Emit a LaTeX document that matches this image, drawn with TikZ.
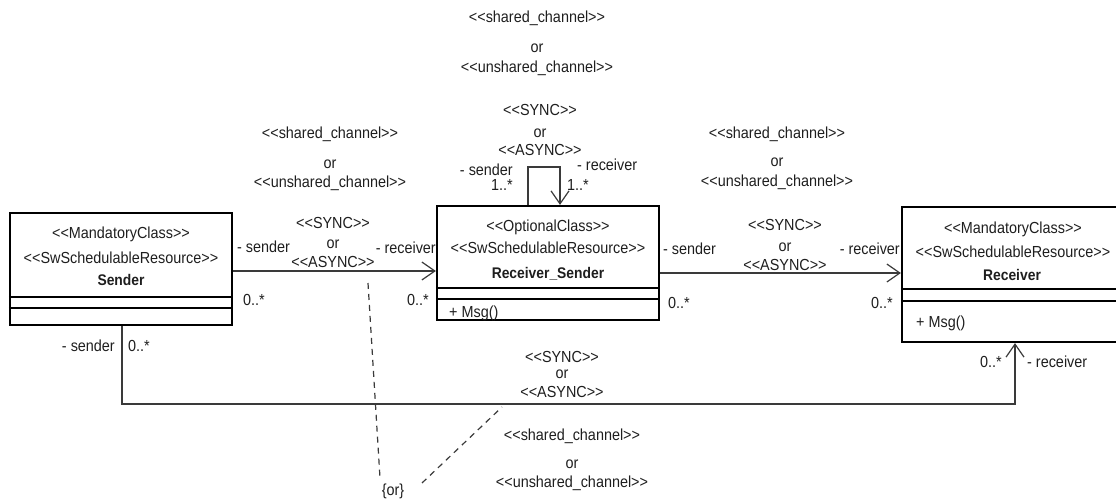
\documentclass[tikz,border=0pt]{standalone}
\usepackage{fontspec}
\setmainfont{Liberation Sans}[Ligatures=TeXOff, FakeStretch=0.9]
\usetikzlibrary{arrows.meta}
\definecolor{ink}{HTML}{1E1E1E}
\definecolor{wire}{HTML}{3A3A3A}
\begin{document}
\begin{tikzpicture}[x=1pt,y=-1pt,
  lab/.style={inner sep=0pt, text height=11pt, text depth=0pt,
    font=\fontsize{16}{18}\selectfont, text=ink},
  classname/.style={lab, font=\fontsize{15.4}{18}\selectfont\bfseries},
  classbox/.style={draw=black, line width=2.2pt, rectangle, inner sep=0pt},
  compart/.style={draw=black, line width=1.3pt},
  conn/.style={draw=wire, line width=1.2pt},
  navig/.style={conn, -{Straight Barb[length=13pt,width=18pt]}},
  constraint/.style={draw=wire, line width=1.2pt, dash pattern=on 6pt off 5pt}]
\useasboundingbox (0,0) rectangle (1116,500);
\clip (0,0) rectangle (1116,500);

% class boxes
\node[classbox, minimum width=222pt, minimum height=112pt] (snd) at (121,269) {};
\node[classbox, minimum width=222pt, minimum height=114pt] (rs) at (548,263) {};
\node[classbox, minimum width=220pt, minimum height=135pt] (rcv) at (1012,274.5) {};

% compartments
\draw[compart] (snd.west |- 0,297) -- (snd.east |- 0,297);
\draw[compart] (snd.west |- 0,308) -- (snd.east |- 0,308);
\draw[compart] (rs.west |- 0,288) -- (rs.east |- 0,288);
\draw[compart] (rs.west |- 0,299) -- (rs.east |- 0,299);
\draw[compart] (rcv.west |- 0,289) -- (rcv.east |- 0,289);
\draw[compart] (rcv.west |- 0,301) -- (rcv.east |- 0,301);

% class headers
\node[lab] (sndst1) at (121,233) {<<MandatoryClass>>};
\node[lab] (sndst2) at (121,258) {<<SwSchedulableResource>>};
\node[classname] (sndnm) at (121,280) {Sender};

\node[lab] (rsst1) at (548,226) {<<OptionalClass>>};
\node[lab] (rsst2) at (548,248) {<<SwSchedulableResource>>};
\node[classname] (rsnm) at (548,273) {Receiver\_Sender};
\node[lab, anchor=west] (rsop) at (449,312) {+ Msg()};

\node[lab] (rcvst1) at (1013,228) {<<MandatoryClass>>};
\node[lab] (rcvst2) at (1013,252) {<<SwSchedulableResource>>};
\node[classname] (rcvnm) at (1012,275) {Receiver};
\node[lab, anchor=west] (rcvop) at (916,322) {+ Msg()};

% associations
\draw[navig] (snd.east |- 0,271) -- (rs.west |- 0,271);
\draw[navig] (rs.east |- 0,273) -- (rcv.west |- 0,273);
\coordinate (loopA) at (528,167);
\coordinate (loopB) at (560,167);
\draw[navig] (rs.north -| loopA) -- (loopA) -- (loopB) -- (rs.north -| loopB);
\coordinate (bendA) at (122,404);
\coordinate (bendB) at (1015,404);
\draw[navig] (snd.south -| bendA) -- (bendA) -- (bendB) -- (rcv.south -| bendB);

% {or} constraint
\node[lab] (orc) at (393,490) {\{or\}};
\coordinate (onA) at (368,283);
\coordinate (offA) at (380,478);
\coordinate (onB) at (502,407);
\coordinate (offB) at (422,483);
\draw[constraint] (onA) -- (offA);
\draw[constraint] (offB) -- (onB);

% channel stereotypes
\node[lab] (t1) at (537,17) {<<shared\_channel>>};
\node[lab] (t2) at (537,47) {or};
\node[lab] (t3) at (537,67) {<<unshared\_channel>>};

\node[lab] (a1) at (330,133) {<<shared\_channel>>};
\node[lab] (a2) at (330,163) {or};
\node[lab] (a3) at (330,182) {<<unshared\_channel>>};

\node[lab] (b1) at (777,133) {<<shared\_channel>>};
\node[lab] (b2) at (777,161) {or};
\node[lab] (b3) at (777,181) {<<unshared\_channel>>};

\node[lab] (g1) at (572,435) {<<shared\_channel>>};
\node[lab] (g2) at (572,463) {or};
\node[lab] (g3) at (572,482) {<<unshared\_channel>>};

% self association labels
\node[lab] (l1) at (540,110) {<<SYNC>>};
\node[lab] (l2) at (540,132) {or};
\node[lab] (l3) at (540,150) {<<ASYNC>>};
\node[lab, anchor=east] (ls) at (513,170) {- sender};
\node[lab, anchor=east] (lsm) at (513,185) {1..*};
\node[lab, anchor=west] (lr) at (577,165) {- receiver};
\node[lab, anchor=west] (lrm) at (567,185) {1..*};

% Sender -> Receiver_Sender labels
\node[lab, anchor=west] (c1s) at (237,247) {- sender};
\node[lab] (c1a) at (333,223) {<<SYNC>>};
\node[lab] (c1b) at (333,243) {or};
\node[lab] (c1c) at (333,262) {<<ASYNC>>};
\node[lab, anchor=east] (c1r) at (436,248) {- receiver};
\node[lab, anchor=west] (c1m1) at (243,300) {0..*};
\node[lab, anchor=east] (c1m2) at (429,300) {0..*};

% Receiver_Sender -> Receiver labels
\node[lab, anchor=west] (e1s) at (663,249) {- sender};
\node[lab] (e1a) at (785,225) {<<SYNC>>};
\node[lab] (e1b) at (785,246) {or};
\node[lab] (e1c) at (785,265) {<<ASYNC>>};
\node[lab, anchor=east] (e1r) at (900,249) {- receiver};
\node[lab, anchor=west] (e1m1) at (668,303) {0..*};
\node[lab, anchor=east] (e1m2) at (893,303) {0..*};

% Sender -> Receiver labels
\node[lab, anchor=east] (f1s) at (115,346) {- sender};
\node[lab, anchor=west] (f1m) at (128,346) {0..*};
\node[lab] (f1a) at (562,357) {<<SYNC>>};
\node[lab] (f1b) at (562,373) {or};
\node[lab] (f1c) at (562,392) {<<ASYNC>>};
\node[lab, anchor=east] (f1m2) at (1002,362) {0..*};
\node[lab, anchor=west] (f1r) at (1027,362) {- receiver};
\end{tikzpicture}
\end{document}
